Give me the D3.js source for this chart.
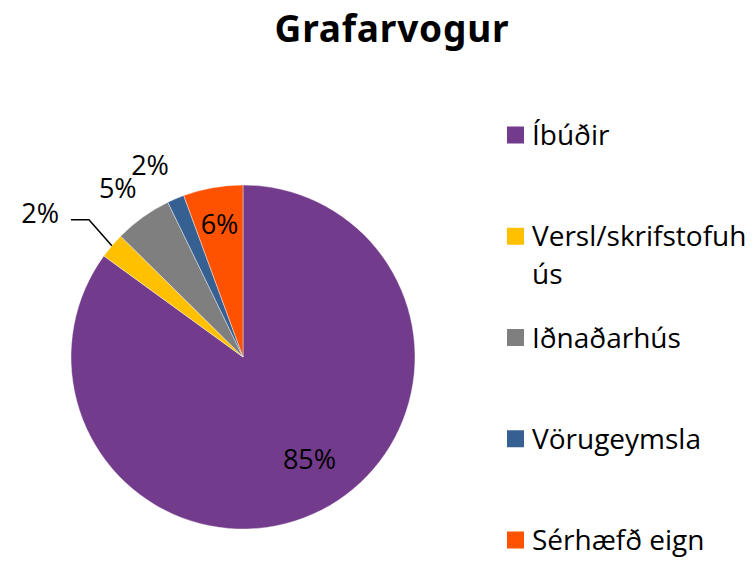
<!DOCTYPE html>
<html>
<head>
<meta charset="utf-8">
<script src="https://cdn.jsdelivr.net/npm/d3@7"></script>
<style>
  html, body { margin: 0; padding: 0; background: #fff; }
  svg { display: block; }
</style>
</head>
<body>
<svg id="chart" width="754" height="563"></svg>
<script>
// Property use shares in Grafarvogur (percent of total)
const categories = ["Íbúðir", "Versl/skrifstofuhús", "Iðnaðarhús", "Vörugeymsla", "Sérhæfð eign"];
const values = [85.0, 2.4, 5.4, 1.6, 5.6];
const colors = ["#723B8B", "#FFC000", "#7F7F7F", "#376092", "#FF5200"];
// Legend text, with the wrap that the legend box forces
const legendLines = [["Íbúðir"], ["Versl/skrifstofuh", "ús"], ["Iðnaðarhús"], ["Vörugeymsla"], ["Sérhæfð eign"]];
const title = "Grafarvogur";

const svg = d3.select("#chart");
const cx = 243, cy = 357, R = 172;
const fontBody = "'Open Sans', 'Noto Sans', sans-serif";

// Title
svg.append("text")
  .attr("x", 392).attr("y", 42)
  .attr("text-anchor", "middle")
  .attr("font-family", "'Noto Sans', 'DejaVu Sans', sans-serif")
  .attr("font-weight", 700)
  .attr("font-size", 37)
  .attr("letter-spacing", 0.8)
  .attr("fill", "#000")
  .text(title);

const data = categories.map((c, i) => ({ name: c, value: values[i], color: colors[i] }));
const pie = d3.pie().sort(null).value(d => d.value);
const arcs = pie(data);
const arc = d3.arc().innerRadius(0).outerRadius(R);

const g = svg.append("g").attr("transform", `translate(${cx},${cy})`);
g.selectAll("path.slice")
  .data(arcs)
  .join("path")
  .attr("class", "slice")
  .attr("d", arc)
  .attr("fill", d => d.data.color)
  .attr("stroke", "#fff")
  .attr("stroke-width", 0.4);

// Label placement: radius factor and angle nudge (degrees) per slice
const labelRadius = [0.71, 1.2, 1.22, 1.24, 0.78];
const labelNudge = [-6, 1.4, -1, -2.8, 0];
const pct = d => Math.round(d.value) + "%";
const polar = (a, r) => [Math.sin(a) * r, -Math.cos(a) * r];
const rad = deg => deg * Math.PI / 180;

arcs.forEach((d, i) => {
  const mid = (d.startAngle + d.endAngle) / 2;
  const a = mid + rad(labelNudge[i]);
  if (i === 1) {
    // thin slice: leader line out to the left
    const p0 = polar(mid, R);
    const p1 = polar(a, R * labelRadius[i]);
    const p2 = [p1[0] - 18, p1[1]];
    g.append("polyline")
      .attr("points", [p0, p1, p2].map(p => p.join(",")).join(" "))
      .attr("fill", "none")
      .attr("stroke", "#000")
      .attr("stroke-width", 1.5);
    g.append("text")
      .attr("x", p2[0] - 12).attr("y", p2[1] - 6)
      .attr("dy", "0.35em")
      .attr("text-anchor", "end")
      .attr("font-family", fontBody)
      .attr("font-size", 27)
      .attr("fill", "#000")
      .text(pct(d.data));
  } else {
    const p = polar(a, R * labelRadius[i]);
    g.append("text")
      .attr("x", p[0]).attr("y", p[1])
      .attr("dy", "0.35em")
      .attr("text-anchor", "middle")
      .attr("font-family", fontBody)
      .attr("font-size", 27)
      .attr("fill", "#000")
      .text(pct(d.data));
  }
});

// Legend
const legendY = d3.scalePoint().domain(categories).range([135, 540]);
const leg = svg.append("g");
categories.forEach((c, i) => {
  const y = legendY(c);
  leg.append("rect")
    .attr("x", 507).attr("y", y - 8.5)
    .attr("width", 17).attr("height", 17)
    .attr("fill", colors[i]);
  const t = leg.append("text")
    .attr("font-family", fontBody)
    .attr("font-size", 28)
    .attr("fill", "#000");
  legendLines[i].forEach((line, k) => {
    t.append("tspan")
      .attr("x", 532)
      .attr("y", y + 10 + k * 38)
      .text(line);
  });
});
</script>
</body>
</html>
